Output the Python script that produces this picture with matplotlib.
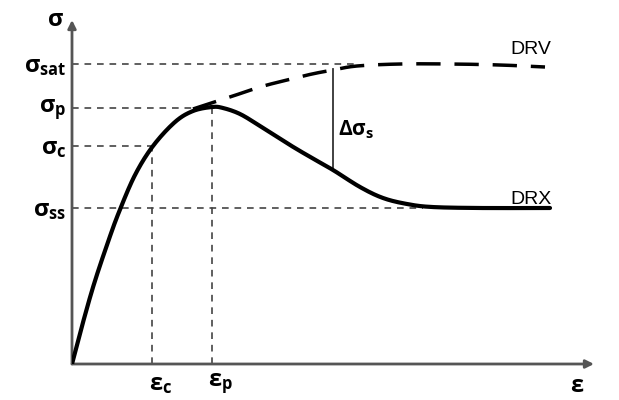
import matplotlib.pyplot as plt
import numpy as np

plt.rcParams["mathtext.fontset"] = "custom"
plt.rcParams["mathtext.rm"] = "Open Sans:bold"
plt.rcParams["mathtext.it"] = "Open Sans:bold"
plt.rcParams["mathtext.bf"] = "Open Sans:bold"

# schematic flow curve (arbitrary units)
drx_strain = [0, 10, 22, 36, 47, 63, 81, 103, 121, 140, 151, 168, 188, 218, 240, 261, 288,
              311, 335, 360, 408, 478]
drx_stress = [0, 38, 80, 122, 152, 189, 218, 242, 253, 257, 256, 250, 238, 219, 206, 194, 177,
              166, 160, 157, 156, 156]
drv_strain = [121, 158, 188, 215, 240, 261, 285, 328, 378, 428, 473]
drv_stress = [255, 267, 277, 284, 290, 294, 298, 300, 300, 299, 297]

eps_c, eps_p = 80, 140
sig_sat, sig_p, sig_c, sig_ss = 300, 256, 218, 156
delta_x, delta_lo, delta_hi = 261, 194, 295


def smooth(xs, ys, n=20):
    # Catmull-Rom through the read points
    p = np.column_stack([xs, ys]).astype(float)
    p = np.vstack([2 * p[0] - p[1], p, 2 * p[-1] - p[-2]])
    out = []
    t = np.linspace(0, 1, n, endpoint=False)[:, None]
    for i in range(1, len(p) - 2):
        p0, p1, p2, p3 = p[i - 1], p[i], p[i + 1], p[i + 2]
        out.append(0.5 * (2 * p1 + (-p0 + p2) * t + (2 * p0 - 5 * p1 + 4 * p2 - p3) * t**2
                          + (-p0 + 3 * p1 - 3 * p2 + p3) * t**3))
    out.append(p[-2][None, :])
    out = np.vstack(out)
    return out[:, 0], out[:, 1]


fig = plt.figure(figsize=(6.19, 4), dpi=100)
ax = fig.add_axes([72 / 619, 36 / 400, 520 / 619, 342 / 400])
ax.set_xlim(0, 520)
ax.set_ylim(0, 342)
ax.axis("off")

# axes with arrows
axis_col = "#555555"
ax.annotate("", xy=(522, 0), xytext=(0, 0), annotation_clip=False,
            arrowprops=dict(arrowstyle="-|>", color=axis_col, lw=2, mutation_scale=12, shrinkA=0, shrinkB=0))
ax.annotate("", xy=(0, 344), xytext=(0, 0), annotation_clip=False,
            arrowprops=dict(arrowstyle="-|>", color=axis_col, lw=2, mutation_scale=12, shrinkA=0, shrinkB=0))

# guide lines
gkw = dict(color="#444444", lw=1.2, linestyle=(0, (4, 3.5)), zorder=1)
ax.plot([0, 285], [sig_sat, sig_sat], **gkw)
ax.plot([0, eps_p], [sig_p, sig_p], **gkw)
ax.plot([0, eps_c], [sig_c, sig_c], **gkw)
ax.plot([0, 351], [sig_ss, sig_ss], **gkw)
ax.plot([eps_c, eps_c], [0, sig_c], **gkw)
ax.plot([eps_p, eps_p], [0, sig_p], **gkw)

# curves
sx, sy = smooth(drx_strain, drx_stress)
ax.plot(sx, sy, color="black", lw=3, solid_capstyle="round", zorder=3)
vx, vy = smooth(drv_strain, drv_stress)
ax.plot(vx, vy, color="black", lw=2.5, linestyle=(0, (7, 4)), zorder=3)
ax.plot([delta_x, delta_x], [delta_lo, delta_hi], color="#333333", lw=1.3, zorder=2)

# labels
fs = 17
ax.text(-17, 345, r"$\sigma$", fontsize=fs, ha="center", va="center")
for lab, val in [("sat", sig_sat), ("p", sig_p), ("c", sig_c), ("ss", sig_ss)]:
    ax.text(-6, val - 2, r"$\sigma_{%s}$" % lab, fontsize=fs, ha="right", va="center")
ax.text(eps_c - 3, -20, r"$\epsilon_{c}$", fontsize=fs, ha="left", va="center")
ax.text(eps_p - 4, -20, r"$\epsilon_{p}$", fontsize=fs, ha="left", va="center")
ax.text(505, -21, r"$\epsilon$", fontsize=fs, ha="center", va="center")
ax.text(266, 234, r"$\Delta\sigma_{s}$", fontsize=15, ha="left", va="center")
ax.text(438, 315, "DRV", fontsize=14, family="Liberation Sans", ha="left", va="center")
ax.text(438, 164, "DRX", fontsize=14, family="Liberation Sans", ha="left", va="center")

fig.savefig("out.png", dpi=100)
